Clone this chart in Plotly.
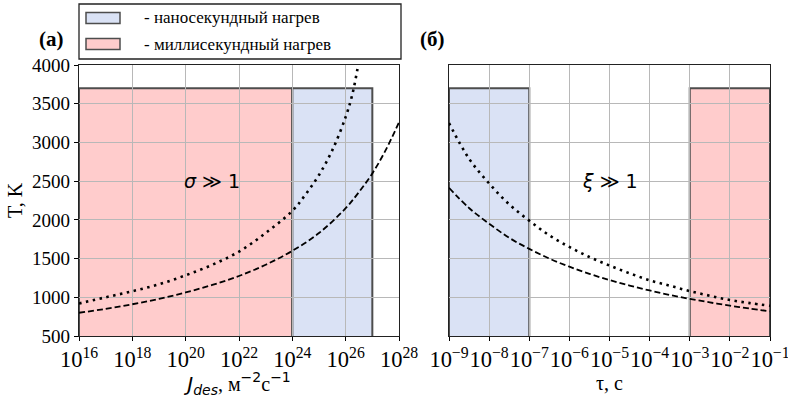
import plotly.graph_objects as go

# ---------------- data: panel (a) ----------------
j_exp_dot = [16, 17, 18, 19, 20, 21, 22, 23, 24, 24.5, 25, 25.5, 26, 26.25, 26.5]
t_dot_a = [920, 1000, 1078, 1168, 1284, 1420, 1590, 1830, 2116, 2330, 2580, 2900, 3330, 3620, 4060]
j_exp_dash = [16, 17, 18, 19, 20, 21, 22, 23, 24, 25, 26, 26.5, 27, 27.5, 28]
t_dash_a = [800, 850, 910, 980, 1062, 1160, 1275, 1420, 1600, 1830, 2150, 2360, 2600, 2900, 3260]

# ---------------- data: panel (b) ----------------
tau_exp = [-9, -8.5, -8, -7.5, -7, -6.5, -6, -5.5, -5, -4.5, -4, -3.5, -3, -2.5, -2, -1.5, -1]
t_dot_b = [3250, 2790, 2470, 2200, 1990, 1800, 1650, 1520, 1410, 1310, 1220, 1150, 1080, 1020, 965, 925, 890]
t_dash_b = [2414, 2153, 1950, 1768, 1625, 1500, 1395, 1303, 1222, 1151, 1088, 1031, 980, 934, 892, 854, 818]

# heating regimes (x-limits of boxes) and box top temperature
box_a_ms = (1e16, 1e24)
box_a_ns = (1e24, 1e27)
box_b_ns = (1e-9, 1e-7)
box_b_ms = (1e-3, 1e-1)
box_t = (0, 3700)

legend_names = ["- наносекундный нагрев", "- миллисекундный нагрев"]
yticks = [500, 1000, 1500, 2000, 2500, 3000, 3500, 4000]

PINK = "#ffcccc"
BLUE = "#dae2f5"
EDGE = "#4d4d4d"
SERIF = "Liberation Serif"
SANS = "DejaVu Sans"
W, H = 788, 398

fig = go.Figure()

dot_style = dict(color="black", width=2.6, dash="2.5px,4.5px")
dash_style = dict(color="black", width=1.8, dash="6px,3px")

fig.add_trace(go.Scatter(x=[10.0 ** e for e in j_exp_dot], y=t_dot_a, mode="lines",
                         line=dot_style, line_shape="spline", showlegend=False, xaxis="x", yaxis="y"))
fig.add_trace(go.Scatter(x=[10.0 ** e for e in j_exp_dash], y=t_dash_a, mode="lines",
                         line=dash_style, line_shape="spline", showlegend=False, xaxis="x", yaxis="y"))
fig.add_trace(go.Scatter(x=[10.0 ** e for e in tau_exp], y=t_dot_b, mode="lines",
                         line=dot_style, line_shape="spline", showlegend=False, xaxis="x2", yaxis="y2"))
fig.add_trace(go.Scatter(x=[10.0 ** e for e in tau_exp], y=t_dash_b, mode="lines",
                         line=dash_style, line_shape="spline", showlegend=False, xaxis="x2", yaxis="y2"))

shapes = []
for (x0, x1), col, xr, yr in [(box_a_ms, PINK, "x", "y"), (box_a_ns, BLUE, "x", "y"),
                              (box_b_ns, BLUE, "x2", "y2"), (box_b_ms, PINK, "x2", "y2")]:
    shapes.append(dict(type="rect", xref=xr, yref=yr, x0=x0, x1=x1, y0=box_t[0], y1=box_t[1],
                       fillcolor=col, line=dict(color=EDGE, width=2), layer="below"))

# legend box (built in paper coordinates)
def px(xp):
    return xp / W

def py(yp):
    return 1 - yp / H

shapes.append(dict(type="rect", xref="paper", yref="paper", x0=px(79), x1=px(401), y0=py(59), y1=py(4),
                   fillcolor="white", line=dict(color="#222222", width=1.3), layer="above"))
annotations = []
for i, (name, col) in enumerate(zip(legend_names, [BLUE, PINK])):
    yc = 18 + 26 * i
    shapes.append(dict(type="rect", xref="paper", yref="paper", x0=px(86), x1=px(120),
                       y0=py(yc + 5.5), y1=py(yc - 5.5), fillcolor=col,
                       line=dict(color=EDGE, width=1.5), layer="above"))
    annotations.append(dict(text=name, x=px(142), y=py(yc), xref="paper", yref="paper",
                            xanchor="left", yanchor="middle", showarrow=False,
                            font=dict(family=SERIF, size=17, color="black")))

axis_common = dict(showline=True, linecolor="#222222", linewidth=1.3, mirror=True,
                   showgrid=True, gridcolor="#b8b8b8", gridwidth=1, zeroline=False,
                   automargin=False, tickangle=0, ticklabeloverflow="allow")

annotations += [
    dict(text="<b>(a)</b>", x=px(51), y=py(39), xref="paper", yref="paper",
         xanchor="center", yanchor="middle",
         showarrow=False, font=dict(family=SERIF, size=21, color="black")),
    dict(text="<b>(б)</b>", x=px(432), y=py(39), xref="paper", yref="paper",
         xanchor="center", yanchor="middle",
         showarrow=False, font=dict(family=SERIF, size=21, color="black")),
    dict(text="<i>σ</i> ≫ 1", x=21, y=2500, xref="x", yref="y", showarrow=False,
         xanchor="center", yanchor="middle",
         font=dict(family=SANS, size=19, color="black")),
    dict(text="<i>ξ</i> ≫ 1", x=-5, y=2500, xref="x2", yref="y2", showarrow=False,
         xanchor="center", yanchor="middle",
         font=dict(family=SANS, size=19, color="black")),
]

xtickfont = dict(family=SERIF, size=18, color="black")
ytickfont = dict(family=SERIF, size=19, color="black")

fig.update_layout(
    width=W, height=H,
    margin=dict(l=0, r=0, t=0, b=0),
    paper_bgcolor="white", plot_bgcolor="white",
    showlegend=False,
    shapes=shapes,
    annotations=annotations,
    xaxis=dict(axis_common, type="log", range=[16, 28], dtick=2, exponentformat="power",
               tickfont=xtickfont,
               domain=[79 / W, 399 / W], ticks="outside", ticklen=4, tickcolor="black",
               title=dict(text="<span style='font-family:DejaVu Sans'><i>J</i><sub><i>des</i></sub></span>, м"
                               "<sup><span style='font-family:DejaVu Sans'>−2</span></sup>с"
                               "<sup><span style='font-family:DejaVu Sans'>−1</span></sup>",
                          font=dict(family=SERIF, size=20, color="black"), standoff=1),
               anchor="y"),
    yaxis=dict(axis_common, range=[500, 4000], tickvals=yticks, tickfont=ytickfont,
               domain=[62 / H, 333 / H], ticks="outside", ticklen=4, tickcolor="black",
               title=dict(text="T, K", font=dict(family=SERIF, size=20, color="black"), standoff=4),
               anchor="x"),
    xaxis2=dict(axis_common, type="log", range=[-9, -1], dtick=1, exponentformat="power",
                tickfont=xtickfont,
                domain=[449 / W, 770 / W], ticks="outside", ticklen=4, tickcolor="black",
                title=dict(text="τ, c", font=dict(family=SERIF, size=20, color="black"), standoff=1),
                anchor="y2"),
    yaxis2=dict(axis_common, range=[500, 4000], tickvals=yticks, showticklabels=False,
                domain=[62 / H, 333 / H], anchor="x2"),
)

fig.write_html("out.html", config={"displayModeBar": False},
               post_script="document.body.style.margin='0px';")
